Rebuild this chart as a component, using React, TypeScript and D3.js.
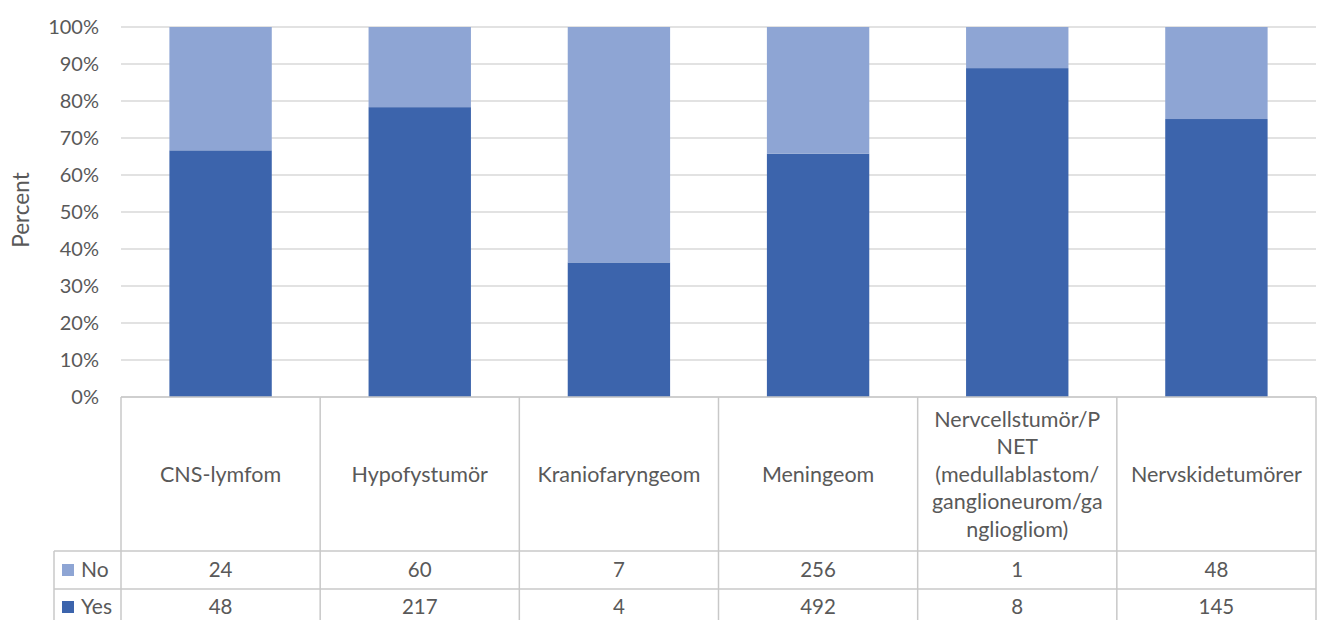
import React from "react";
import * as d3 from "d3";

const categories = [
  "CNS-lymfom",
  "Hypofystumör",
  "Kraniofaryngeom",
  "Meningeom",
  "Nervcellstumör/PNET (medullablastom/ganglioneurom/gangliogliom)",
  "Nervskidetumörer",
];
const categoryLines = [
  ["CNS-lymfom"],
  ["Hypofystumör"],
  ["Kraniofaryngeom"],
  ["Meningeom"],
  ["Nervcellstumör/P", "NET", "(medullablastom/", "ganglioneurom/ga", "nglioglim)"],
  ["Nervskidetumörer"],
];
const noValues = [24, 60, 7, 256, 1, 48];
const yesValues = [48, 217, 4, 492, 8, 145];
const yTicks = [0, 0.1, 0.2, 0.3, 0.4, 0.5, 0.6, 0.7, 0.8, 0.9, 1];
const seriesNames = ["No", "Yes"];

const W = 1318;
const H = 620;
const FONT = "Lato, 'Open Sans', sans-serif";
const TEXT = "#595959";
const GRID = "#d9d9d9";
const TABLE = "#c8c8c8";
const C_YES = "#3c64ac";
const C_NO = "#8ea5d4";

export default function App() {
  const lines = categoryLines.map((l) => l.slice());
  lines[4][4] = "nglioglim)".replace("glim", "gliom");

  const plotLeft = 121;
  const plotRight = 1316;
  const x = d3.scaleBand<string>().domain(categories).range([plotLeft, plotRight]).paddingInner(0.486).paddingOuter(0.243);
  const y = d3.scaleLinear().domain([0, 1]).range([397, 27]);
  const step = x.step();
  const pct = d3.format(".0%");

  const tableTop = 397;
  const catBottom = 551;
  const noBottom = 589;
  const yesBottom = 627;
  const legendLeft = 54;

  const cells = categories.map((c, i) => {
    const left = plotLeft + i * step;
    return { c, i, left, cx: left + step / 2 };
  });

  return (
    <svg width={W} height={H} style={{ position: "absolute", left: 0, top: 0, background: "#fff" }}>
      <rect x={0} y={0} width={W} height={H} fill="#fff" />
      {yTicks.map((t) => (
        <line key={t} x1={plotLeft} x2={plotRight} y1={y(t)} y2={y(t)} stroke={GRID} strokeWidth={1.5} />
      ))}
      {yTicks.map((t) => (
        <text key={"l" + t} x={99} y={y(t)} dy="0.35em" textAnchor="end" fontFamily={FONT} fontSize={20} fill={TEXT}>
          {pct(t)}
        </text>
      ))}
      <text
        transform={`translate(29,${(y(0) + y(1)) / 2 - 2}) rotate(-90)`}
        textAnchor="middle"
        fontFamily={FONT}
        fontSize={22.5}
        fill={TEXT}
      >
        Percent
      </text>
      {categories.map((c, i) => {
        const total = yesValues[i] + noValues[i];
        const yesP = yesValues[i] / total;
        const bx = x(c)!;
        const bw = x.bandwidth();
        return (
          <g key={c}>
            <rect x={bx} y={y(yesP)} width={bw} height={y(0) - y(yesP)} fill={C_YES} />
            <rect x={bx} y={y(1)} width={bw} height={y(yesP) - y(1)} fill={C_NO} />
          </g>
        );
      })}
      <g stroke={TABLE} strokeWidth={1.5} fill="none">
        <line x1={plotLeft} x2={plotRight} y1={tableTop} y2={tableTop} />
        <line x1={legendLeft} x2={plotRight} y1={catBottom} y2={catBottom} />
        <line x1={legendLeft} x2={plotRight} y1={noBottom} y2={noBottom} />
        <line x1={legendLeft} x2={plotRight} y1={yesBottom} y2={yesBottom} />
        <line x1={legendLeft} x2={legendLeft} y1={catBottom} y2={yesBottom} />
        {d3.range(categories.length + 1).map((k) => (
          <line key={k} x1={plotLeft + k * step} x2={plotLeft + k * step} y1={tableTop} y2={yesBottom} />
        ))}
      </g>
      {cells.map(({ c, i, cx }) => {
        const ls = lines[i];
        const lh = 27.5;
        const mid = (tableTop + catBottom) / 2;
        return (
          <g key={"t" + c}>
            {ls.map((s, k) => (
              <text
                key={k}
                x={cx}
                y={mid + (k - (ls.length - 1) / 2) * lh}
                dy="0.35em"
                textAnchor="middle"
                fontFamily={FONT}
                fontSize={21.5}
                fill={TEXT}
              >
                {s}
              </text>
            ))}
            <text x={cx} y={(catBottom + noBottom) / 2} dy="0.35em" textAnchor="middle" fontFamily={FONT} fontSize={20.5} fill={TEXT}>
              {noValues[i]}
            </text>
            <text x={cx} y={(noBottom + yesBottom) / 2 - 1} dy="0.35em" textAnchor="middle" fontFamily={FONT} fontSize={20.5} fill={TEXT}>
              {yesValues[i]}
            </text>
          </g>
        );
      })}
      {seriesNames.map((s, k) => {
        const cy = k === 0 ? (catBottom + noBottom) / 2 : (noBottom + yesBottom) / 2 - 1;
        return (
          <g key={s}>
            <rect x={62} y={cy - 6} width={12} height={12} fill={k === 0 ? C_NO : C_YES} />
            <text x={81} y={cy} dy="0.35em" fontFamily={FONT} fontSize={21} fill={TEXT}>
              {s}
            </text>
          </g>
        );
      })}
    </svg>
  );
}
